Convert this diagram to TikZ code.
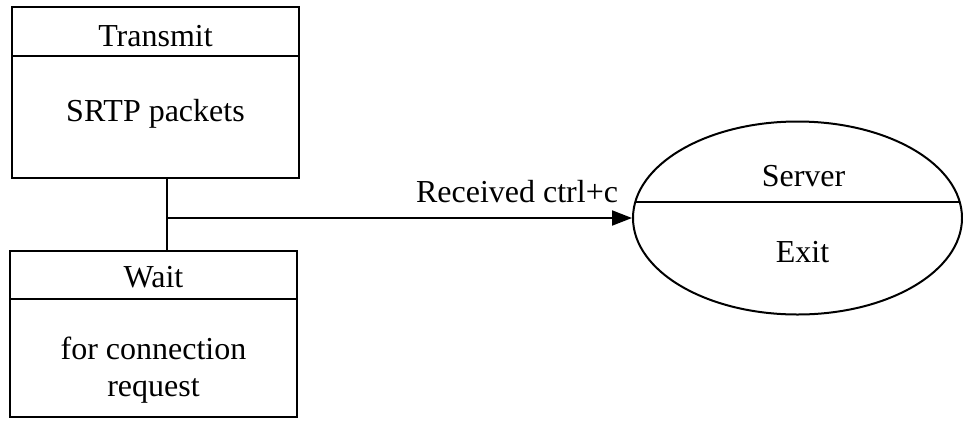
\documentclass[tikz,border=0pt]{standalone}
\usepackage{fontspec}
\setmainfont{Liberation Serif}
\usetikzlibrary{arrows.meta,shapes.geometric,calc}
\begin{document}
\begin{tikzpicture}[x=1pt,y=-1pt,
  every node/.style={font=\fontsize{32}{37}\selectfont, inner sep=0pt},
  stategraph/.style={draw, line width=2pt, rectangle, minimum width=287pt},
  finalstate/.style={draw, line width=2pt, ellipse, minimum width=329pt, minimum height=193pt},
  divider/.style={line width=2pt},
  link/.style={line width=2pt},
  flow/.style={line width=2pt, -{Triangle[length=20pt,width=15pt]}},
  label/.style={align=center, anchor=base}]
\useasboundingbox (0,0) rectangle (963,421);

% transmit state
\node[stategraph, minimum height=171pt] (tx) at (155.5,92.5) {};
\draw[divider] (tx.west |- 0,56) -- (tx.east |- 0,56);
\node[label] (txh) at (155.5,46) {Transmit};
\node[label] (txb) at (155.5,121.5) {SRTP packets};

% wait state
\node[stategraph, minimum height=166pt] (wt) at (153.5,334) {};
\draw[divider] (wt.west |- 0,299) -- (wt.east |- 0,299);
\node[label] (wth) at (153.5,287) {Wait};
\node[label, anchor=north] (wtb) at (153.5,337) {for connection\\request};

% server exit state
\node[finalstate] (srv) at (797.5,218) {};
\draw[divider] ($(srv.center)+(-162.2,-16)$) -- ($(srv.center)+(162.2,-16)$);
\node[label] (srvh) at (803.5,186) {Server};
\node[label] (srvb) at (802.5,262) {Exit};

% transitions
\coordinate (j) at (167,218);
\draw[link] (tx.south -| j) -- (wt.north -| j);
\draw[flow] (j) -- (srv.west)
  node[pos=1, anchor=base east, xshift=-13pt, yshift=16pt] (ev) {Received ctrl+c};
\end{tikzpicture}
\end{document}
